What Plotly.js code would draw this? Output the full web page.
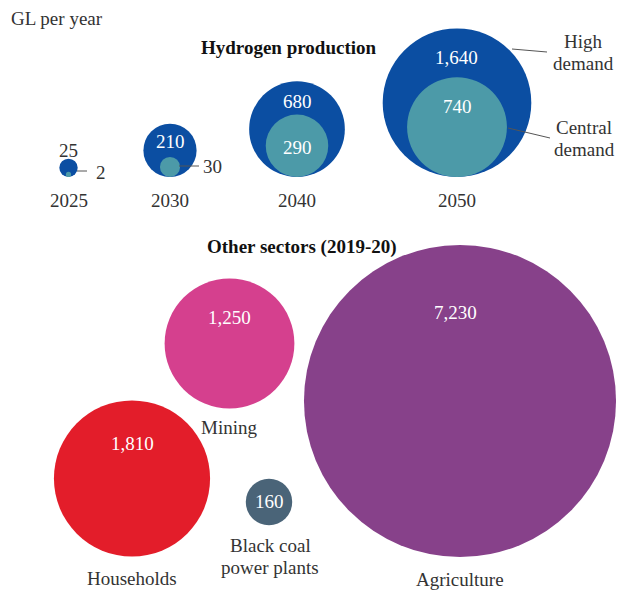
<!DOCTYPE html>
<html>
<head>
<meta charset="utf-8">
<script src="https://cdn.plot.ly/plotly-3.0.1.min.js"></script>
<style>html,body{margin:0;padding:0;background:#fff;}#chart{width:625px;height:590px;}</style>
</head>
<body>
<div id="chart"></div>
<script>
// ---- data ----
const hydYears = ['2025', '2030', '2040', '2050'];
const hydHigh = [25, 210, 680, 1640];      // High demand, GL per year
const hydCentral = [2, 30, 290, 740];      // Central demand, GL per year
const sectors = ['Households', 'Mining', 'Black coal|power plants', 'Agriculture'];
const sectorValues = [1810, 1250, 160, 7230];
const seriesNames = ['High|demand', 'Central|demand'];

// ---- layout helpers (positions / styles) ----
const K = 3.67;                 // px diameter per sqrt(GL)
const sizeref = 2 / (K * K);    // plotly area mode: d = sqrt(2*v/sizeref)
const hydBase = 177;            // bubbles sit on a common baseline
const hydX = [68.5, 170, 297, 457];
const secX = [132, 229.5, 269, 460];
const secY = [478.5, 343.5, 502, 401];
const secColors = ['#e31d2a', '#d5408e', '#4a6478', '#87418a'];
const highLabelPos = [[68, 150, '#333'], [170, 141, '#fff'], [297, 101, '#fff'], [456, 57, '#fff']];
const centralLabelPos = [[101, 172, '#333'], [212, 166, '#333'], [297, 147, '#fff'], [457, 106, '#fff']];
const secValuePos = [[132, 443], [229, 317], [269, 501], [455, 312]];
const secNamePos = [[132, 578], [229, 427], [270, 545], [460, 579]];
const seriesNamePos = [[583, 41], [584, 127]];
const lineGap = 22;
const yearLabelY = 200;
const FONT = 'Liberation Serif, Times New Roman, serif';
const TXT = '#333';
const FS = 19;

const fmt = v => v.toLocaleString('en-US');
const diam = v => K * Math.sqrt(v);

const traces = [
  {
    type: 'scatter', mode: 'markers', name: 'High demand',
    x: hydX, y: hydHigh.map(v => hydBase - diam(v) / 2),
    marker: {size: hydHigh, sizemode: 'area', sizeref: sizeref, color: '#0b4ea2', opacity: 1, line: {width: 0}},
    hoverinfo: 'skip', cliponaxis: false
  },
  {
    type: 'scatter', mode: 'markers', name: 'Central demand',
    x: hydX, y: hydCentral.map(v => hydBase - diam(v) / 2),
    marker: {size: hydCentral, sizemode: 'area', sizeref: sizeref, color: '#4c9aa8', opacity: 1, line: {width: 0}},
    hoverinfo: 'skip', cliponaxis: false
  },
  {
    type: 'scatter', mode: 'markers', name: 'Other sectors',
    x: secX, y: secY,
    marker: {size: sectorValues, sizemode: 'area', sizeref: sizeref, color: secColors, opacity: 1, line: {width: 0}},
    hoverinfo: 'skip', cliponaxis: false
  }
];

const ann = [];
function addText(x, y, text, color, size, bold) {
  text.split('|').forEach((line, j) => {
    ann.push({x: x, y: y + j * lineGap, xref: 'x', yref: 'y', text: bold ? '<b>' + line + '</b>' : line,
      showarrow: false, font: {family: FONT, size: size, color: color}, xanchor: 'center', yanchor: 'middle'});
  });
}
addText(57, 18, 'GL per year', TXT, FS);
addText(289, 47, 'Hydrogen production', '#111', FS, true);
addText(302, 247, 'Other sectors (2019-20)', '#111', FS, true);
hydYears.forEach((yr, i) => addText(hydX[i], yearLabelY, yr, TXT, FS));
hydHigh.forEach((v, i) => addText(highLabelPos[i][0], highLabelPos[i][1], fmt(v), highLabelPos[i][2], FS));
hydCentral.forEach((v, i) => addText(centralLabelPos[i][0], centralLabelPos[i][1], fmt(v), centralLabelPos[i][2], FS));
seriesNames.forEach((s, i) => addText(seriesNamePos[i][0], seriesNamePos[i][1], s, TXT, FS));
sectorValues.forEach((v, i) => addText(secValuePos[i][0], secValuePos[i][1], fmt(v), '#fff', FS));
sectors.forEach((s, i) => addText(secNamePos[i][0], secNamePos[i][1], s, TXT, FS));

const leaders = [[77, 171, 87, 171], [179, 166, 199, 166], [512, 49, 547, 52], [508, 128, 550, 138]];
const shapes = leaders.map(l => ({type: 'line', xref: 'x', yref: 'y', x0: l[0], y0: l[1], x1: l[2], y1: l[3],
  line: {color: '#555', width: 1}}));

const layout = {
  width: 625, height: 590,
  margin: {l: 0, r: 0, t: 0, b: 0, pad: 0},
  paper_bgcolor: '#fff', plot_bgcolor: '#fff',
  showlegend: false,
  xaxis: {range: [0, 625], visible: false, fixedrange: true},
  yaxis: {range: [590, 0], visible: false, fixedrange: true},
  annotations: ann,
  shapes: shapes,
  hovermode: false
};

Plotly.newPlot('chart', traces, layout, {displayModeBar: false, staticPlot: true});
</script>
</body>
</html>
